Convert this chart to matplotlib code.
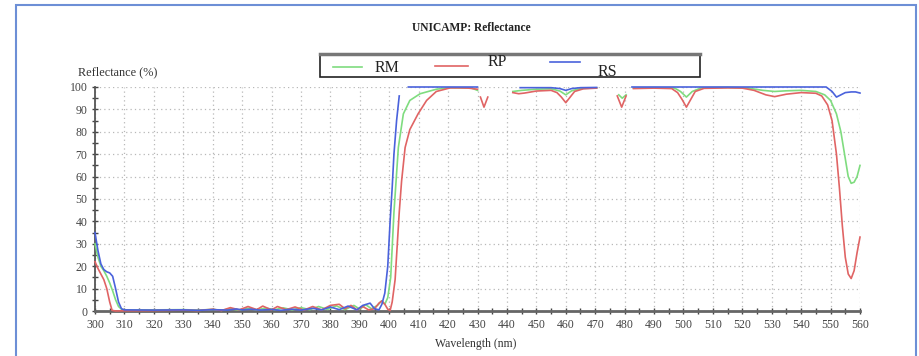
import numpy as np
import matplotlib.pyplot as plt
from matplotlib.lines import Line2D
from matplotlib.patches import Rectangle

nan = np.nan

# ---------------------------------------------------------------------------
# Data (NaN marks gaps in the exported curves)
# ---------------------------------------------------------------------------

rs_wl = [300, 301, 302, 303, 304, 305, 306, 307, 308, 309, 310, 320, 330, 335, 340, 345,
         348, 350, 353, 356, 360, 363, 367, 370, 374, 377, 380, 383, 386, 389, 391, 393.5,
         395, 396.5, 397.5, 398.5, 399.5, 400.3, 401, 401.6, 402.5, 403.4, 404,
         406.5, 430, 437,
         444.5, 455, 458, 460, 462, 465, 470.5, 476,
         482.5, 548.5, 550.5, 552, 553.5, 555, 557, 558.5, 560]
rs_val = [35, 27, 21, 18.5, 17.5, 17, 15.5, 10, 4, 1, 0.5, 0.4, 0.5, 0.3, 0.6, 0.4,
          0.9, 0.5, 0.8, 0.4, 0.7, 0.3, 0.8, 0.4, 1.2, 0.5, 1.8, 0.6, 2.2, 0.5, 2.5, 3.5,
          1, 0.5, 3, 8, 20, 40, 55, 70, 85, 96, nan,
          100, 100, nan,
          99.7, 99.7, 99.3, 98.5, 99.3, 99.7, 99.8, nan,
          100, 100, 98, 95.5, 96.5, 97.5, 97.8, 97.8, 97.3]

rm_wl = [300, 301, 302, 303, 304, 305, 306, 307, 308, 309, 310, 320, 330, 335, 340, 343,
         346, 349, 352, 355, 358, 361, 364, 367, 370, 373, 376, 379, 382, 385, 388, 390,
         392, 394, 396, 397.4, 398.5, 399.5, 400.5, 401.6, 403.1, 404.8, 407,
         410.5, 416, 420, 428, 430, 436,
         442, 445, 450, 455, 458, 460, 462, 465, 470.5, 474,
         478, 479.2, 480.5, 482,
         483, 490, 497, 499, 501, 503, 506, 515, 522, 527, 531, 535, 540, 545, 548, 550,
         552, 553.5, 555, 556, 557, 558, 559, 560]
rm_val = [30, 24, 20, 18, 15.5, 12.5, 9, 5, 2, 0.8, 0.5, 0.5, 0.6, 0.4, 0.7, 0.3,
          1.0, 0.4, 1.2, 0.5, 1.3, 0.6, 1.4, 0.5, 1.5, 0.6, 2.0, 0.7, 2.3, 0.6, 2.5, 0.8,
          2.8, 1.0, 2.5, 4.5, 3, 6, 15, 44, 73, 88, 94,
          97, 99, 99.7, 99.5, 98.5, nan,
          98, 98.5, 99, 99.2, 98.2, 96.5, 98.3, 99.3, 99.6, nan,
          96.5, 95, 96.5, nan,
          99.5, 99.7, 99.5, 98, 95.5, 98, 99.6, 99.8, 99.5, 98.5, 98, 98.3, 98.5, 98, 96.5, 94,
          88, 80, 68, 60, 57, 57.5, 60, 65]

rp_wl = [300, 301, 302, 303, 304, 305, 305.8, 307, 310, 320, 330, 335, 340, 343, 346, 349,
         352, 355, 357, 360, 362, 365, 368, 371, 374, 377, 380, 383, 385, 387, 389, 391,
         393, 395, 396.5, 397.5, 398.5, 399.5, 400.3, 401, 402, 403.4, 404.2, 405.4, 407,
         409.8, 412.7, 416, 420.7, 424, 427, 430, 430.5,
         431, 432.2, 433.5, 438,
         442, 444, 446, 450, 455, 457, 458.5, 460, 461.5, 463, 466, 470.5, 474,
         477.5, 479, 480.5, 482,
         483, 490, 496, 498, 499.5, 501, 502.5, 504, 507, 515, 520, 524, 528, 531, 535, 540,
         545, 547, 549, 550.5, 552, 553, 554, 555, 556, 557, 558, 559, 560]
rp_val = [22, 19, 16.5, 14, 10, 4, 0.3, 0, 0.1, 0.2, 0.4, 0.2, 0.8, 0.2, 1.5, 0.5,
          2.0, 0.6, 2.2, 0.5, 2.0, 0.6, 1.8, 0.4, 2.0, 0.5, 2.5, 3.0, 1.0, 2.5, 0.5, 2.0,
          0.5, 1.0, 3.5, 4.5, 3, 0.8, 0.2, 4, 14, 44, 58, 73, 81,
          88, 94, 98, 99.6, 99.6, 99.5, 99, nan,
          95.5, 91, 95.5, nan,
          97.5, 97, 97.3, 98.2, 98.5, 97.5, 95.5, 93, 95.5, 98, 99.2, 99.5, nan,
          96, 91, 96, nan,
          99.3, 99.5, 99.3, 97.5, 94.5, 91, 94.5, 98, 99.4, 99.6, 99.5, 98.5, 96.5, 95.7, 96.8, 97.5,
          97.2, 96, 92, 85, 70, 55, 38, 24, 16.5, 14.5, 18, 26, 33]

series = [("RM", rm_wl, rm_val, "#7fdc7f"),
          ("RP", rp_wl, rp_val, "#e06464"),
          ("RS", rs_wl, rs_val, "#4a62dc")]

x_ticks = np.arange(300, 561, 10)
y_ticks = np.arange(0, 101, 10)

# ---------------------------------------------------------------------------
# Figure
# ---------------------------------------------------------------------------

plt.rcParams["font.family"] = ["Liberation Serif", "DejaVu Serif"]

W, H = 920, 356
fig = plt.figure(figsize=(W / 100, H / 100), dpi=100)
ax = fig.add_axes([95 / W, 1 - 311 / H, (860 - 95) / W, (311 - 87) / H])

for name, wl, val, col in series:
    ax.plot(wl, val, color=col, lw=1.2, clip_on=False, zorder=3)

ax.set_xlim(300, 560)
ax.set_ylim(0, 100)
ax.set_xticks(x_ticks)
ax.set_yticks(y_ticks)
ax.set_xticks(np.arange(305, 560, 10), minor=True)
ax.set_yticks(np.arange(5, 100, 10), minor=True)
ax.grid(True, which="major", color="#b8b8b8", lw=0.9, ls=(0, (1, 2.5)), zorder=0)

for s in ("top", "right"):
    ax.spines[s].set_visible(False)
ax.spines["bottom"].set_color("#666666")
ax.spines["bottom"].set_linewidth(2)
ax.spines["left"].set_color("#555555")
ax.spines["left"].set_linewidth(1.3)
ax.tick_params(which="both", direction="inout", length=5, width=1, color="#444444",
               labelsize=8.5, labelcolor="#444444", pad=3)

# titles and labels
fig.text(471 / W, 1 - 28 / H, "UNICAMP: Reflectance", ha="center", va="center",
         fontsize=8.3, fontweight="bold", color="#222222")
fig.text(78 / W, 1 - 72 / H, "Reflectance (%)", ha="left", va="center",
         fontsize=8.8, color="#333333")
fig.text(476 / W, 1 - 344 / H, "Wavelength (nm)", ha="center", va="center",
         fontsize=8.5, color="#333333")

# hand-drawn legend box
fig.add_artist(Rectangle((320 / W, 1 - 77 / H), 380 / W, 23 / H, transform=fig.transFigure,
                         facecolor="white", edgecolor="#222222", lw=1.2))
fig.add_artist(Line2D([320 / W, 700 / W], [1 - 54 / H, 1 - 54 / H], transform=fig.transFigure,
                      color="#777777", lw=2.5))
leg_pos = [(333, 362, 67, 375, 68), (435, 468, 66, 488, 62), (550, 580, 62, 598, 72)]
for (name, wl, val, col), (x0, x1, ly, tx, ty) in zip(series, leg_pos):
    fig.add_artist(Line2D([x0 / W, x1 / W], [1 - ly / H, 1 - ly / H],
                          transform=fig.transFigure, color=col, lw=1.2))
    fig.text(tx / W, 1 - ty / H, name, ha="left", va="center", fontsize=11.5, color="#222222")

# outer window frame
fig.add_artist(Rectangle((16 / W, -0.05), 900 / W, 1 - 5 / H + 0.05, transform=fig.transFigure,
                         facecolor="none", edgecolor="#6d8fd6", lw=1.5))

fig.savefig("out.png", dpi=100)
